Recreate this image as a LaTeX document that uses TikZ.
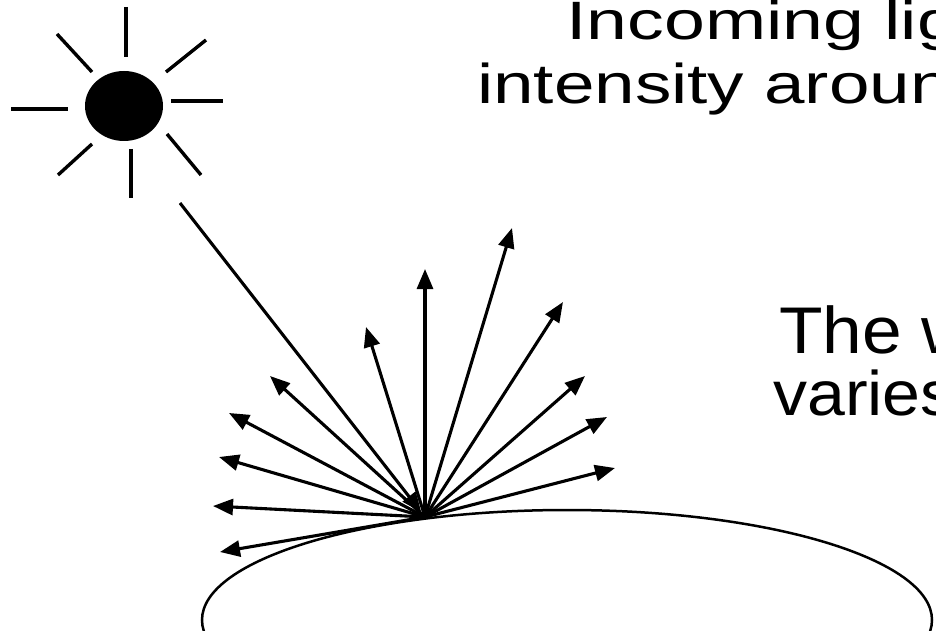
\documentclass[tikz,border=0pt]{standalone}
\usepackage{fontspec}
\setmainfont{Liberation Sans}
\usepackage{graphicx}
\usetikzlibrary{arrows.meta}

\begin{document}
\begin{tikzpicture}[x=1pt,y=-1pt,
    beam/.style={line width=3.1pt,-{Triangle[length=20pt,width=16pt]}},
    sunray/.style={line width=3.4pt},
    caption/.style={anchor=base west,inner sep=0pt}]

    \useasboundingbox (0,0) rectangle (936,631);
    \clip (0,0) rectangle (936,631);

    % ---------- sun ----------
    \fill (124,106) ellipse [x radius=39pt, y radius=35pt];
    \foreach \ax/\ay/\bx/\by in {126/7/126/57, 57/34/92/72, 206/40/166/72,
                                 11/109/68/109, 171/101/223/101,
                                 58/175/92/144, 131/149/131/198, 167/134/201/175}{
      \draw[sunray] (\ax,\ay) -- (\bx,\by);
    }

    % ---------- surface ----------
    \draw[line width=2.5pt] (567,620) ellipse [x radius=365pt, y radius=110pt];

    % ---------- incoming and outgoing light ----------
    \coordinate (hub) at (425,517);
    \coordinate (src) at (180,203);
    \draw[beam, shorten >=6pt] (src) -- (hub);

    \foreach \tx/\ty [count=\k] in {512/228, 425/269, 563/302, 366/327,
                                   585/376, 270/376, 607/417, 229/413,
                                   615/468, 219/457, 213/506, 220/552}{
      \coordinate (out\k) at (\tx,\ty);
      \draw[beam] (hub) -- (out\k);
    }

    % ---------- labels ----------
    \node[caption, font=\fontsize{54}{54}\selectfont] (inA) at (566,40)
      {\scalebox{1.36}[1]{Incoming lig}};
    \node[caption, font=\fontsize{56}{56}\selectfont] (inB) at (477,104)
      {\scalebox{1.3}[1]{intensity aroun}};
    \node[caption, font=\fontsize{66}{66}\selectfont] (wayA) at (779,353)
      {\scalebox{1.08}[1]{The w}};
    \node[caption, font=\fontsize{63}{63}\selectfont] (wayB) at (773,415)
      {\scalebox{1.08}[1]{varies}};
\end{tikzpicture}
\end{document}
